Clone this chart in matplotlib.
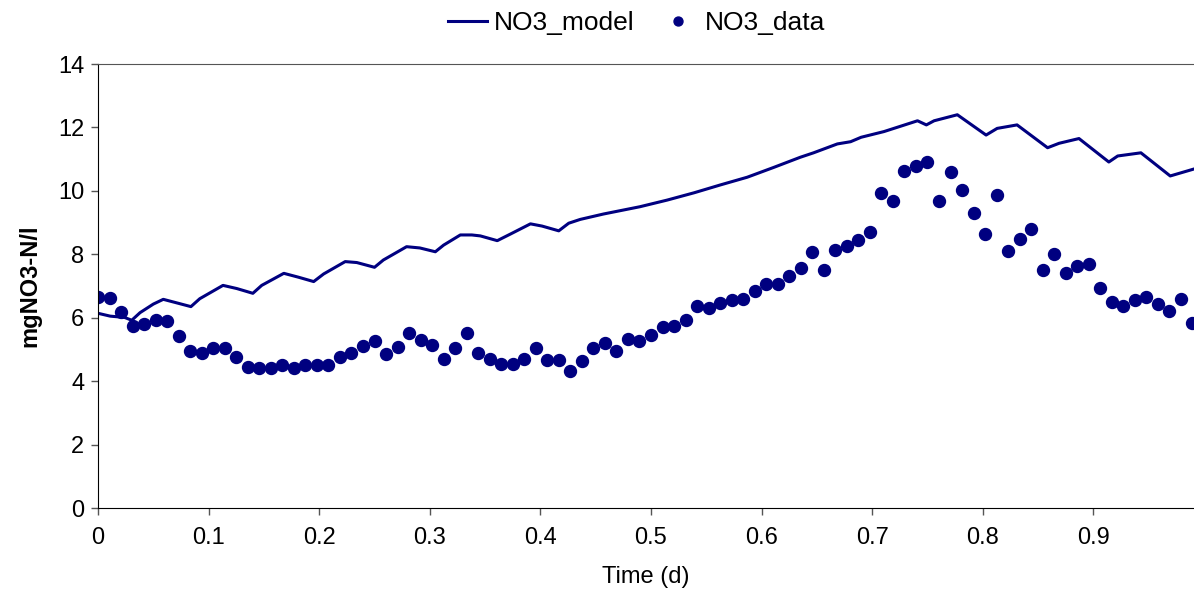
import numpy as np
import matplotlib.pyplot as plt

plt.rcParams['font.family'] = ['Liberation Sans', 'DejaVu Sans']

# measured NO3 every 15 min
time_data = np.arange(96) / 96
no3_data = [6.64, 6.61, 6.17, 5.75, 5.80, 5.93, 5.90, 5.41, 4.95, 4.90,
            5.04, 5.05, 4.75, 4.46, 4.42, 4.42, 4.52, 4.42, 4.52, 4.51,
            4.51, 4.75, 4.90, 5.10, 5.28, 4.85, 5.09, 5.53, 5.29, 5.14,
            4.71, 5.05, 5.53, 4.90, 4.71, 4.53, 4.53, 4.71, 5.05, 4.67,
            4.67, 4.33, 4.63, 5.05, 5.19, 4.95, 5.32, 5.28, 5.47, 5.71,
            5.75, 5.94, 6.38, 6.32, 6.46, 6.56, 6.60, 6.84, 7.07, 7.07,
            7.32, 7.56, 8.07, 7.51, 8.13, 8.26, 8.46, 8.69, 9.92, 9.68,
            10.63, 10.77, 10.90, 9.68, 10.59, 10.02, 9.30, 8.64, 9.87, 8.11,
            8.49, 8.79, 7.51, 8.02, 7.40, 7.64, 7.69, 6.93, 6.51, 6.37,
            6.56, 6.65, 6.42, 6.22, 6.60, 5.84]

# model curve
time_model = [0.0, 0.011, 0.024, 0.0305, 0.038, 0.050, 0.059, 0.071, 0.084, 0.092,
              0.113, 0.1255, 0.140, 0.148, 0.168, 0.181, 0.195, 0.204, 0.2235, 0.234,
              0.250, 0.258, 0.279, 0.291, 0.305, 0.3125, 0.3276, 0.338, 0.3457, 0.361,
              0.373, 0.391, 0.4015, 0.4166, 0.4256, 0.436, 0.457, 0.490, 0.5147, 0.539,
              0.563, 0.587, 0.611, 0.635, 0.647, 0.6685, 0.6805, 0.690, 0.7107, 0.741,
              0.749, 0.756, 0.777, 0.803, 0.813, 0.831, 0.8586, 0.869, 0.887, 0.914,
              0.922, 0.943, 0.9695, 0.992]
no3_model = [6.14, 6.05, 6.01, 5.92, 6.16, 6.43, 6.58, 6.47, 6.35, 6.60,
             7.02, 6.92, 6.77, 7.02, 7.40, 7.28, 7.14, 7.38, 7.77, 7.74,
             7.59, 7.82, 8.24, 8.20, 8.08, 8.29, 8.61, 8.61, 8.58, 8.43,
             8.64, 8.96, 8.89, 8.74, 8.98, 9.10, 9.27, 9.50, 9.71, 9.94,
             10.19, 10.43, 10.74, 11.06, 11.20, 11.48, 11.55, 11.69, 11.87, 12.21,
             12.08, 12.21, 12.40, 11.76, 11.97, 12.08, 11.36, 11.50, 11.65, 10.91,
             11.10, 11.20, 10.47, 10.70]

navy = '#000080'

fig = plt.figure(figsize=(11.94, 6.05), dpi=100)
ax = fig.add_axes([0.0821, 0.1603, 0.9179, 0.7339])

ax.plot(time_model, no3_model, color=navy, lw=2.2, label='NO3_model')
ax.plot(time_data, no3_data, 'o', color=navy, ms=8.6, label='NO3_data')

ax.set_xlim(0, 0.991)
ax.set_ylim(0, 14)
ax.set_xticks([0, 0.1, 0.2, 0.3, 0.4, 0.5, 0.6, 0.7, 0.8, 0.9])
ax.set_xticklabels(['0', '0.1', '0.2', '0.3', '0.4', '0.5', '0.6', '0.7', '0.8', '0.9'])
ax.set_yticks(range(0, 15, 2))
ax.tick_params(axis='both', labelsize=17, length=5, width=1, color='#555555')
ax.tick_params(axis='x', pad=9)
ax.tick_params(axis='y', pad=5)

ax.spines['right'].set_visible(False)
ax.spines['top'].set_color('#555555')

ax.set_xlabel('Time (d)', fontsize=17, labelpad=12)
ax.set_ylabel('mgNO3-N/l', fontsize=17, fontweight='bold', labelpad=12)

fig.legend(loc='center', bbox_to_anchor=(0.533, 0.962), ncol=2, frameon=False,
           fontsize=19, handlelength=1.5, handletextpad=0.25, columnspacing=0.9,
           markerscale=0.75, borderaxespad=0)

fig.savefig('out.png', dpi=100)
